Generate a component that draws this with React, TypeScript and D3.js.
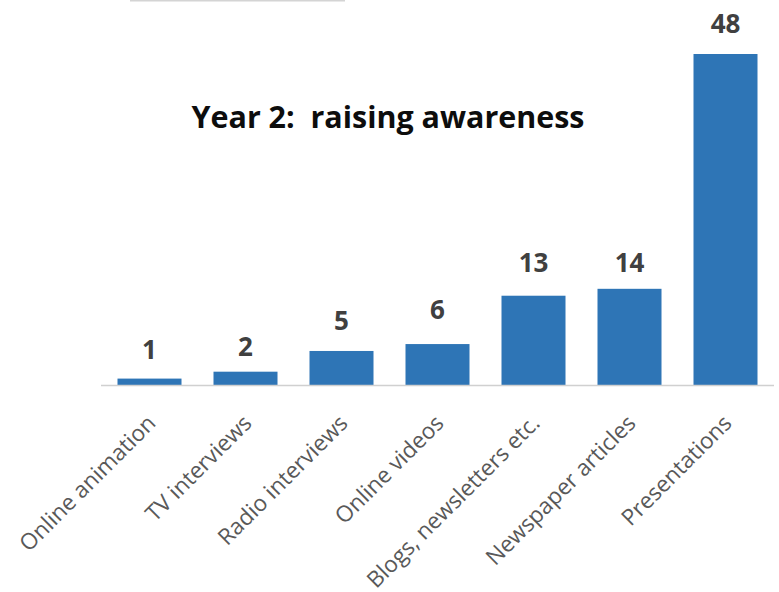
import React from "react";
import * as d3 from "d3";

const categories = [
  "Online animation",
  "TV interviews",
  "Radio interviews",
  "Online videos",
  "Blogs, newsletters etc.",
  "Newspaper articles",
  "Presentations",
];
const values = [1, 2, 5, 6, 13, 14, 48];
const title = "Year 2:  raising awareness";

// layout: gap (px) between each bar top and its data label baseline
const labelGap = [19.5, 15.5, 21, 25, 23.5, 16.5, 21];

const W = 779;
const H = 592;

export default function App() {
  const x = d3
    .scaleBand<string>()
    .domain(categories)
    .range([101.5, 773.5])
    .paddingInner(1 / 3)
    .paddingOuter(1 / 6);
  const y = d3.scaleLinear().domain([0, 48]).range([385.5, 54]);
  const base = y(0);

  return (
    <svg
      width={W}
      height={H}
      viewBox={`0 0 ${W} ${H}`}
      style={{ position: "absolute", left: 0, top: 0, background: "#fff" }}
    >
      <line x1={130} x2={345} y1={0.5} y2={0.5} stroke="#d4d4d4" strokeWidth={2} />
      <text
        x={388}
        y={128}
        textAnchor="middle"
        fontFamily="'Open Sans', sans-serif"
        fontWeight={700}
        fontSize={30}
        fill="#0d0d0d"
        textLength={393}
        lengthAdjust="spacingAndGlyphs"
        style={{ whiteSpace: "pre" }}
      >
        {title}
      </text>
      {categories.map((c, i) => {
        const v = values[i];
        const bx = x(c)!;
        const cx = bx + x.bandwidth() / 2;
        return (
          <g key={c}>
            <rect x={bx} y={y(v)} width={x.bandwidth()} height={base - y(v)} fill="#2E75B6" />
            <text
              x={cx}
              y={y(v) - labelGap[i]}
              textAnchor="middle"
              fontFamily="'Open Sans', sans-serif"
              fontWeight={700}
              fontSize={26}
              fill="#404040"
            >
              {v}
            </text>
            <text
              transform={`translate(${cx + 2},${419}) rotate(-45)`}
              textAnchor="end"
              dy="0.35em"
              fontFamily="'Open Sans', sans-serif"
              fontSize={22.5}
              fill="#595959"
            >
              {c}
            </text>
          </g>
        );
      })}
      <line x1={101} x2={774} y1={base} y2={base} stroke="#d0d0d0" strokeWidth={1.5} />
    </svg>
  );
}
